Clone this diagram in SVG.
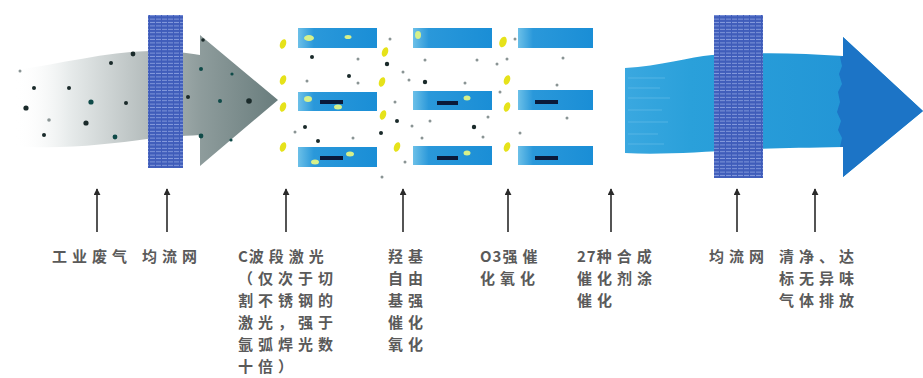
<svg xmlns="http://www.w3.org/2000/svg" width="923" height="378" viewBox="0 0 923 378">
  <style>
    .lbl { font-family: "Noto Sans CJK SC", "Noto Sans", sans-serif; font-size: 15px; font-weight: 700; fill: #5a5a5a; letter-spacing: 5px; }
    .tight { letter-spacing: 1px; }
    .ptr { stroke: #2a2a2a; stroke-width: 1.6; fill: none; }
    .dk { fill: #1a2a2a; }
    .gy { fill: #8a9494; }
    .tl { fill: #0f4a48; }
    .yb { fill: #e6e21a; }
    .ys { fill: #d6f08a; }
    .bar { fill: #0a1a3a; }
    .cell { fill: url(#cellGrad); }
  </style>
  <defs>
    <linearGradient id="grayGrad" x1="15" y1="0" x2="280" y2="0" gradientUnits="userSpaceOnUse">
      <stop offset="0" stop-color="#ffffff" stop-opacity="0"/>
      <stop offset="0.2" stop-color="#e8ecec"/>
      <stop offset="0.5" stop-color="#b4bcbc"/>
      <stop offset="0.7" stop-color="#8e9c9c"/>
      <stop offset="1" stop-color="#687c7c"/>
    </linearGradient>
    <linearGradient id="blueGrad" x1="625" y1="0" x2="843" y2="0" gradientUnits="userSpaceOnUse">
      <stop offset="0" stop-color="#3aa8e0"/>
      <stop offset="0.3" stop-color="#2aa0da"/>
      <stop offset="1" stop-color="#2396d6"/>
    </linearGradient>
    <linearGradient id="cellGrad" x1="0" y1="0" x2="1" y2="0">
      <stop offset="0" stop-color="#6cc0e8"/>
      <stop offset="0.2" stop-color="#2a98da"/>
      <stop offset="1" stop-color="#1a8ed6"/>
    </linearGradient>
    <pattern id="mesh" width="6" height="3.4" patternUnits="userSpaceOnUse">
      <rect width="6" height="3.4" fill="#3f5cba"/>
      <rect y="1.6" width="5" height="1" fill="#9aaee6" opacity="0.75"/>
    </pattern>
    <marker id="tip" viewBox="0 0 8 8" refX="7" refY="4" markerWidth="7" markerHeight="7" markerUnits="userSpaceOnUse" orient="auto">
      <path d="M0,0 L8,4 L0,8 Z" fill="#2a2a2a"/>
    </marker>
  </defs>

  <!-- incoming exhaust stream -->
  <g id="exhaust-stream">
    <path d="M15,70 C60,64 105,52 150,51 C170,51 188,53 200,55 L200,35 L278,100 L200,166 L200,135 C180,136 165,137 147,139 C110,144 60,150 15,146 Z" fill="url(#grayGrad)"/>
    <g>
      <circle class="gy" cx="20" cy="71" r="1.5"/>
      <circle class="dk" cx="34" cy="88" r="2"/>
      <circle class="dk" cx="26" cy="108" r="2.6"/>
      <circle class="gy" cx="49" cy="120" r="1.8"/>
      <circle class="dk" cx="44" cy="135" r="2"/>
      <circle class="dk" cx="69" cy="88" r="2"/>
      <circle class="tl" cx="91" cy="102" r="2.6"/>
      <circle class="dk" cx="86" cy="123" r="2.6"/>
      <circle class="tl" cx="115" cy="137" r="2.4"/>
      <circle class="dk" cx="111" cy="63" r="2"/>
      <circle class="dk" cx="133" cy="54" r="2.4"/>
      <circle class="dk" cx="126" cy="103" r="2"/>
      <circle class="dk" cx="188" cy="97" r="2"/>
      <circle class="tl" cx="201" cy="69" r="2"/>
      <circle class="tl" cx="201" cy="136" r="2.4"/>
      <circle class="tl" cx="220" cy="101" r="2"/>
      <circle class="dk" cx="249" cy="101" r="2.8"/>
      <circle class="tl" cx="232" cy="74" r="1.6"/>
      <circle class="dk" cx="203" cy="40" r="1.8"/>
      <circle class="tl" cx="231" cy="140" r="1.6"/>
    </g>
  </g>

  <!-- first flow-equalising mesh -->
  <g id="mesh-inlet">
    <rect x="148" y="15" width="35" height="153" fill="url(#mesh)"/>
  </g>

  <!-- catalytic reaction zone -->
  <g id="reaction-zone">
    <rect class="cell" x="298" y="28" width="79" height="20"/>
    <rect class="cell" x="298" y="92" width="79" height="19"/>
    <rect class="cell" x="298" y="147" width="79" height="20"/>
    <rect class="cell" x="413" y="28" width="79" height="20"/>
    <rect class="cell" x="413" y="91" width="79" height="19"/>
    <rect class="cell" x="413" y="146" width="79" height="19"/>
    <rect class="cell" x="518" y="28" width="75" height="20"/>
    <rect class="cell" x="518" y="90" width="75" height="20"/>
    <rect class="cell" x="518" y="146" width="75" height="19"/>

    <rect class="bar" x="320" y="100" width="23" height="4"/>
    <rect class="bar" x="320" y="156" width="23" height="4"/>
    <rect class="bar" x="437" y="101" width="21" height="4"/>
    <rect class="bar" x="437" y="156" width="21" height="4"/>
    <rect class="bar" x="535" y="100" width="23" height="4"/>
    <rect class="bar" x="535" y="156" width="23" height="4"/>

    <ellipse class="ys" cx="309" cy="38" rx="5" ry="3"/>
    <ellipse class="ys" cx="348" cy="37" rx="3.5" ry="2"/>
    <ellipse class="ys" cx="418" cy="35" rx="3" ry="4"/>
    <ellipse class="ys" cx="308" cy="99" rx="4" ry="3"/>
    <ellipse class="ys" cx="338" cy="107" rx="4" ry="2.5"/>
    <ellipse class="ys" cx="467" cy="98" rx="3.5" ry="2.5"/>
    <ellipse class="ys" cx="350" cy="154" rx="4" ry="2.5"/>
    <ellipse class="ys" cx="315" cy="162" rx="4" ry="2.5"/>
    <ellipse class="ys" cx="467" cy="153" rx="3.5" ry="2.5"/>

    <ellipse class="yb" cx="283" cy="44" rx="3" ry="5" transform="rotate(20 283 44)"/>
    <ellipse class="yb" cx="283" cy="80" rx="3" ry="5" transform="rotate(20 283 80)"/>
    <ellipse class="yb" cx="283" cy="107" rx="3" ry="5" transform="rotate(20 283 107)"/>
    <ellipse class="yb" cx="283" cy="147" rx="3" ry="5" transform="rotate(20 283 147)"/>
    <ellipse class="yb" cx="385" cy="52" rx="3" ry="5" transform="rotate(20 385 52)"/>
    <ellipse class="yb" cx="382" cy="82" rx="3" ry="5" transform="rotate(20 382 82)"/>
    <ellipse class="yb" cx="383" cy="115" rx="3" ry="5" transform="rotate(20 383 115)"/>
    <ellipse class="yb" cx="397" cy="147" rx="3" ry="5" transform="rotate(20 397 147)"/>
    <ellipse class="yb" cx="503" cy="42" rx="3.5" ry="5.5" transform="rotate(20 503 42)"/>
    <ellipse class="yb" cx="507" cy="80" rx="3" ry="5" transform="rotate(20 507 80)"/>
    <ellipse class="yb" cx="507" cy="107" rx="3" ry="5" transform="rotate(20 507 107)"/>
    <ellipse class="yb" cx="507" cy="147" rx="3" ry="5" transform="rotate(20 507 147)"/>

    <circle class="dk" cx="312" cy="57" r="2"/>
    <circle class="dk" cx="349" cy="76" r="2"/>
    <circle class="dk" cx="387" cy="64" r="2.2"/>
    <circle class="dk" cx="425" cy="82" r="2.2"/>
    <circle class="dk" cx="397" cy="121" r="2"/>
    <circle class="dk" cx="381" cy="133" r="2"/>
    <circle class="dk" cx="305" cy="127" r="2"/>
    <circle class="dk" cx="318" cy="141" r="2"/>
    <circle class="dk" cx="474" cy="127" r="2.2"/>

    <circle class="gy" cx="358" cy="59" r="1.5"/>
    <circle class="gy" cx="307" cy="81" r="1.5"/>
    <circle class="gy" cx="358" cy="83" r="1.5"/>
    <circle class="gy" cx="390" cy="39" r="1.5"/>
    <circle class="gy" cx="403" cy="72" r="1.5"/>
    <circle class="gy" cx="409" cy="80" r="1.5"/>
    <circle class="gy" cx="425" cy="60" r="1.5"/>
    <circle class="gy" cx="477" cy="60" r="1.5"/>
    <circle class="gy" cx="497" cy="64" r="1.5"/>
    <circle class="gy" cx="507" cy="59" r="1.5"/>
    <circle class="gy" cx="515" cy="39" r="1.5"/>
    <circle class="gy" cx="563" cy="58" r="1.5"/>
    <circle class="gy" cx="465" cy="83" r="1.5"/>
    <circle class="gy" cx="500" cy="92" r="1.5"/>
    <circle class="gy" cx="557" cy="85" r="1.5"/>
    <circle class="gy" cx="395" cy="102" r="1.5"/>
    <circle class="gy" cx="412" cy="126" r="1.5"/>
    <circle class="gy" cx="430" cy="121" r="1.5"/>
    <circle class="gy" cx="488" cy="117" r="1.5"/>
    <circle class="gy" cx="567" cy="118" r="1.5"/>
    <circle class="gy" cx="295" cy="132" r="1.5"/>
    <circle class="gy" cx="353" cy="138" r="1.5"/>
    <circle class="gy" cx="422" cy="138" r="1.5"/>
    <circle class="gy" cx="483" cy="137" r="1.5"/>
    <circle class="gy" cx="520" cy="133" r="1.5"/>
    <circle class="gy" cx="405" cy="162" r="1.5"/>
    <circle class="gy" cx="382" cy="177" r="1.5"/>
  </g>

  <!-- cleaned outgoing stream -->
  <g id="clean-stream">
    <path d="M625,68 C660,66 690,57 712,55 C760,52 800,53 843,56 L843,37 L923,111 L843,177 L843,147 C800,148 770,148 740,150 C700,152 660,155 625,153 Z" fill="url(#blueGrad)"/>
    <g stroke="#7cc8ee" stroke-width="1" opacity="0.45">
      <line x1="628" y1="78" x2="665" y2="78"/>
      <line x1="628" y1="88" x2="660" y2="88"/>
      <line x1="628" y1="98" x2="670" y2="98"/>
      <line x1="628" y1="110" x2="662" y2="110"/>
      <line x1="628" y1="122" x2="668" y2="122"/>
      <line x1="628" y1="134" x2="658" y2="134"/>
      <line x1="628" y1="144" x2="664" y2="144"/>
    </g>
    <!-- darker arrow head with a ragged leading edge -->
    <path d="M843,37 L923,111 L843,177 L843,147 L840,147 L842,138 L838,130 L841,121 L837,112 L840,102 L838,92 L842,84 L839,74 L842,66 L840,57 L843,56 Z" fill="#1c74c6"/>
  </g>

  <!-- second flow-equalising mesh -->
  <g id="mesh-outlet">
    <rect x="714" y="15" width="49" height="163" fill="url(#mesh)"/>
  </g>

  <!-- pointer arrows -->
  <g id="connectors">
    <line class="ptr" x1="97" y1="232" x2="97" y2="189" marker-end="url(#tip)"/>
    <line class="ptr" x1="167" y1="232" x2="167" y2="189" marker-end="url(#tip)"/>
    <line class="ptr" x1="286" y1="232" x2="286" y2="189" marker-end="url(#tip)"/>
    <line class="ptr" x1="403" y1="232" x2="403" y2="189" marker-end="url(#tip)"/>
    <line class="ptr" x1="508" y1="232" x2="508" y2="189" marker-end="url(#tip)"/>
    <line class="ptr" x1="611" y1="232" x2="611" y2="189" marker-end="url(#tip)"/>
    <line class="ptr" x1="737" y1="232" x2="737" y2="189" marker-end="url(#tip)"/>
    <line class="ptr" x1="815" y1="232" x2="815" y2="189" marker-end="url(#tip)"/>
  </g>

  <!-- labels -->
  <g id="label-exhaust"><text class="lbl" x="52" y="262">工业废气</text></g>
  <g id="label-mesh1"><text class="lbl" x="142" y="262">均流网</text></g>
  <g id="label-laser">
    <text class="lbl" x="238" y="262"><tspan class="tight">C</tspan>波段激光</text>
    <text class="lbl" x="238" y="284">（仅次于切</text>
    <text class="lbl" x="238" y="306">割不锈钢的</text>
    <text class="lbl" x="238" y="328">激光，强于</text>
    <text class="lbl" x="238" y="350">氩弧焊光数</text>
    <text class="lbl" x="238" y="372">十倍）</text>
  </g>
  <g id="label-hydroxyl">
    <text class="lbl" x="388" y="262">羟基</text>
    <text class="lbl" x="388" y="284">自由</text>
    <text class="lbl" x="388" y="306">基强</text>
    <text class="lbl" x="388" y="328">催化</text>
    <text class="lbl" x="388" y="350">氧化</text>
  </g>
  <g id="label-ozone">
    <text class="lbl" x="480" y="262"><tspan class="tight">O3</tspan>强催</text>
    <text class="lbl" x="480" y="284">化氧化</text>
  </g>
  <g id="label-catalyst">
    <text class="lbl" x="577" y="262"><tspan class="tight">27</tspan>种合成</text>
    <text class="lbl" x="577" y="284">催化剂涂</text>
    <text class="lbl" x="577" y="306">催化</text>
  </g>
  <g id="label-mesh2"><text class="lbl" x="709" y="262">均流网</text></g>
  <g id="label-output">
    <text class="lbl" x="779" y="262">清净、达</text>
    <text class="lbl" x="779" y="284">标无异味</text>
    <text class="lbl" x="779" y="306">气体排放</text>
  </g>
</svg>
